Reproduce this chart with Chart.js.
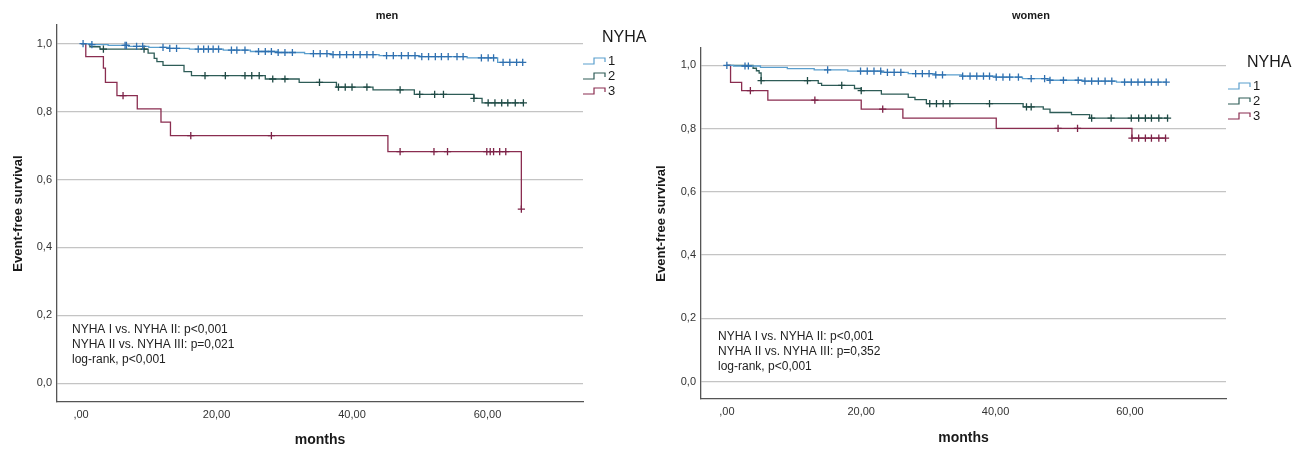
<!DOCTYPE html>
<html>
<head>
<meta charset="utf-8">
<script src="https://cdn.jsdelivr.net/npm/chart.js@4"></script>
<style>
  html, body { margin: 0; padding: 0; background: #fff; }
  #wrap { position: relative; width: 1299px; height: 450px; }
  canvas { position: absolute; top: 0; }
</style>
</head>
<body>
<div id="wrap">
  <canvas id="men" width="650" height="450" style="left:0"></canvas>
  <canvas id="women" width="649" height="450" style="left:650px"></canvas>
</div>
<script>
// axis ticks
const xTicks = [0, 20, 40, 60];
const xTickLabels = [',00', '20,00', '40,00', '60,00'];
const yTicks = [0, 0.2, 0.4, 0.6, 0.8, 1.0];
const yTickLabels = ['0,0', '0,2', '0,4', '0,6', '0,8', '1,0'];
const groups = ['1', '2', '3'];

// men - step times (months) and survival, censored times
const menT1 = [0, 1.6, 4, 7, 10, 13, 16, 21, 25, 29, 33, 37, 44, 50, 57, 61.5, 65.2];
const menS1 = [1, 0.997, 0.995, 0.992, 0.989, 0.986, 0.984, 0.981, 0.977, 0.974, 0.971, 0.968, 0.965, 0.962, 0.958, 0.945, 0.945];
const menC1 = [0.3, 1.6, 6.5, 6.7, 8.2, 9.1, 12.1, 13.1, 14.1, 17.3, 18.1, 18.8, 19.5, 20.3, 22.2, 23.0, 24.2, 26.2, 27.2, 28.1, 29.1, 30.1, 31.2, 34.3, 35.3, 36.3, 37.2, 38.2, 39.2, 40.2, 41.2, 42.2, 43.1, 45.1, 46.1, 47.3, 48.3, 49.3, 50.3, 51.3, 52.3, 53.2, 54.2, 55.5, 56.4, 59.1, 60.1, 60.9, 62.3, 63.3, 64.3, 65.2];

const menT2 = [0, 1.3, 2.8, 9.9, 10.8, 11.2, 12.1, 15.2, 16.3, 27.2, 32.2, 37.7, 43.1, 49.2, 58.0, 59.2, 65.3];
const menS2 = [1, 0.991, 0.984, 0.972, 0.957, 0.947, 0.936, 0.918, 0.906, 0.896, 0.886, 0.872, 0.864, 0.851, 0.839, 0.826, 0.826];
const menC2 = [3.3, 9.3, 18.3, 21.3, 24.2, 25.2, 26.3, 28.3, 30.1, 35.2, 38.0, 39.0, 40.0, 42.2, 47.1, 50.0, 52.2, 53.5, 58.0, 60.1, 61.1, 62.1, 63.0, 64.1, 65.3];

const menT3 = [0, 0.7, 3.3, 3.6, 5.3, 8.3, 11.8, 13.2, 45.3, 65.0];
const menS3 = [1, 0.962, 0.928, 0.886, 0.847, 0.808, 0.769, 0.729, 0.682, 0.513];
const menC3 = [6.2, 16.2, 28.1, 47.1, 52.1, 54.1, 59.9, 60.4, 60.9, 61.8, 62.7, 65.0];

// women
const womT1 = [0, 1, 5, 9, 13, 18, 23, 27, 31, 35, 40, 44, 48, 53, 58, 65.4];
const womS1 = [1, 0.998, 0.994, 0.990, 0.986, 0.982, 0.978, 0.974, 0.970, 0.966, 0.963, 0.958, 0.953, 0.950, 0.947, 0.947];
const womC1 = [0, 2.7, 3.2, 15.0, 19.9, 20.9, 21.9, 22.9, 23.9, 24.9, 25.9, 28.1, 29.1, 30.1, 31.1, 32.1, 35.1, 36.2, 37.2, 38.2, 39.1, 40.1, 41.1, 42.1, 43.4, 45.3, 47.3, 48.1, 50.1, 52.3, 53.3, 54.3, 55.3, 56.3, 57.3, 59.2, 60.2, 61.2, 62.2, 63.2, 64.2, 65.4];

const womT2 = [0, 3.9, 4.4, 4.8, 5.1, 13.6, 14.1, 19.0, 20.0, 23.0, 27.0, 28.0, 29.7, 44.1, 47.1, 48.1, 51.3, 54.0, 65.6];
const womS2 = [1, 0.991, 0.983, 0.976, 0.952, 0.943, 0.937, 0.927, 0.920, 0.909, 0.899, 0.892, 0.879, 0.869, 0.862, 0.851, 0.844, 0.833, 0.833];
const womC2 = [5.1, 12.0, 17.1, 20.0, 30.2, 31.2, 32.2, 33.2, 39.1, 44.6, 45.3, 54.3, 57.2, 60.2, 61.3, 62.3, 63.2, 64.3, 65.6];

const womT3 = [0, 0.55, 2.2, 6.1, 20.0, 26.2, 40.1, 60.3, 65.3];
const womS3 = [1, 0.946, 0.920, 0.890, 0.862, 0.833, 0.801, 0.770, 0.770];
const womC3 = [3.5, 13.1, 23.2, 49.3, 52.2, 60.3, 61.3, 62.3, 63.2, 64.3, 65.3];

const menNotes = ['NYHA I vs. NYHA II: p<0,001', 'NYHA II vs. NYHA III: p=0,021', 'log-rank, p<0,001'];
const womNotes = ['NYHA I vs. NYHA II: p<0,001', 'NYHA II vs. NYHA III: p=0,352', 'log-rank, p<0,001'];

const FONT = '"Liberation Sans", Arial, sans-serif';
const lineColors = ['#5b9fce', '#2e5c57', '#8a2d50'];
const crossColors = ['#2f70b0', '#1f4a45', '#7d2247'];

// survival value at time t (step function)
function survAt(times, surv, t) {
  let v = surv[0];
  for (let i = 0; i < times.length; i++) {
    if (times[i] <= t + 1e-9) v = surv[i];
  }
  return v;
}

function buildSets(curves) {
  const sets = [];
  curves.forEach((c, i) => {
    sets.push({
      type: 'line',
      data: c.t.map((t, k) => ({x: t, y: c.s[k]})),
      stepped: true,
      borderColor: lineColors[i],
      borderWidth: 1.3,
      pointRadius: 0,
      fill: false,
      order: 2
    });
    sets.push({
      type: 'scatter',
      data: c.c.map(t => ({x: t, y: survAt(c.t, c.s, t)})),
      pointStyle: 'cross',
      pointRadius: 3.6,
      pointBorderWidth: 1.3,
      borderColor: crossColors[i],
      backgroundColor: crossColors[i],
      showLine: false,
      order: 1
    });
  });
  return sets;
}

const decor = {
  id: 'decor',
  afterDraw(chart, args, o) {
    const ctx = chart.ctx, a = chart.chartArea;
    ctx.save();
    ctx.fillStyle = '#1a1a1a';
    ctx.textAlign = 'center';
    ctx.textBaseline = 'middle';
    ctx.font = 'bold 11px ' + FONT;
    ctx.fillText(o.title, o.titleX, 16);

    ctx.save();
    ctx.translate(o.yTitleX, (a.top + a.bottom) / 2);
    ctx.rotate(-Math.PI / 2);
    ctx.font = 'bold 13px ' + FONT;
    ctx.fillText('Event-free survival', 0, 0);
    ctx.restore();

    ctx.font = 'bold 14px ' + FONT;
    ctx.fillText('months', (a.left + a.right) / 2, o.xTitleY);

    // legend
    ctx.textAlign = 'left';
    ctx.font = '16px ' + FONT;
    ctx.fillText('NYHA', o.legX + 19, o.legY);
    ctx.font = '13px ' + FONT;
    groups.forEach((g, i) => {
      const sx = o.legX, sy = o.legY + 23 + i * 15;
      ctx.strokeStyle = lineColors[i];
      ctx.lineWidth = 1.2;
      ctx.beginPath();
      ctx.moveTo(sx, sy + 3);
      ctx.lineTo(sx + 11, sy + 3);
      ctx.lineTo(sx + 11, sy - 3);
      ctx.lineTo(sx + 22, sy - 3);
      ctx.lineTo(sx + 22, sy + 1);
      ctx.stroke();
      ctx.fillText(g, sx + 25, sy);
    });

    // test results
    ctx.font = '12px ' + FONT;
    ctx.fillStyle = '#222';
    o.notes.forEach((n, i) => ctx.fillText(n, o.noteX, o.noteY + i * 15));
    ctx.restore();
  }
};

function makeChart(id, curves, xr, pad, yW, xH, deco) {
  return new Chart(document.getElementById(id), {
    data: {datasets: buildSets(curves)},
    options: {
      responsive: false,
      animation: false,
      devicePixelRatio: 1,
      layout: {padding: pad},
      plugins: {legend: {display: false}, tooltip: {enabled: false}, decor: deco},
      scales: {
        x: {
          type: 'linear', min: xr[0], max: xr[1],
          afterBuildTicks: s => { s.ticks = xTicks.map(v => ({value: v})); },
          afterFit: s => { s.height = xH; },
          ticks: {callback: (v, i) => xTickLabels[i], padding: 6, color: '#333', font: {family: FONT, size: 11}, maxRotation: 0},
          grid: {display: false, drawTicks: false},
          border: {display: true, color: '#555', width: 1.3}
        },
        y: {
          type: 'linear', min: -0.055, max: 1.055,
          afterBuildTicks: s => { s.ticks = yTicks.map(v => ({value: v})); },
          afterFit: s => { s.width = yW; },
          ticks: {callback: (v, i) => yTickLabels[i], padding: 5, color: '#333', font: {family: FONT, size: 11}},
          grid: {color: '#c4c4c4', lineWidth: 1.3, drawTicks: false},
          border: {display: true, color: '#555', width: 1.3}
        }
      }
    },
    plugins: [decor]
  });
}

makeChart('men',
  [{t: menT1, s: menS1, c: menC1}, {t: menT2, s: menS2, c: menC2}, {t: menT3, s: menS3, c: menC3}],
  [-3.55, 74.1], {left: 0, right: 67, top: 25, bottom: 0}, 57, 48,
  {title: 'men', titleX: 387, yTitleX: 18, xTitleY: 440, legX: 583, legY: 38, notes: menNotes, noteX: 72, noteY: 330});

makeChart('women',
  [{t: womT1, s: womS1, c: womC1}, {t: womT2, s: womS2, c: womC2}, {t: womT3, s: womS3, c: womC3}],
  [-3.85, 74.3], {left: 0, right: 73, top: 48, bottom: 0}, 51, 51,
  {title: 'women', titleX: 381, yTitleX: 11, xTitleY: 438, legX: 578, legY: 63, notes: womNotes, noteX: 68, noteY: 337});
</script>
</body>
</html>
